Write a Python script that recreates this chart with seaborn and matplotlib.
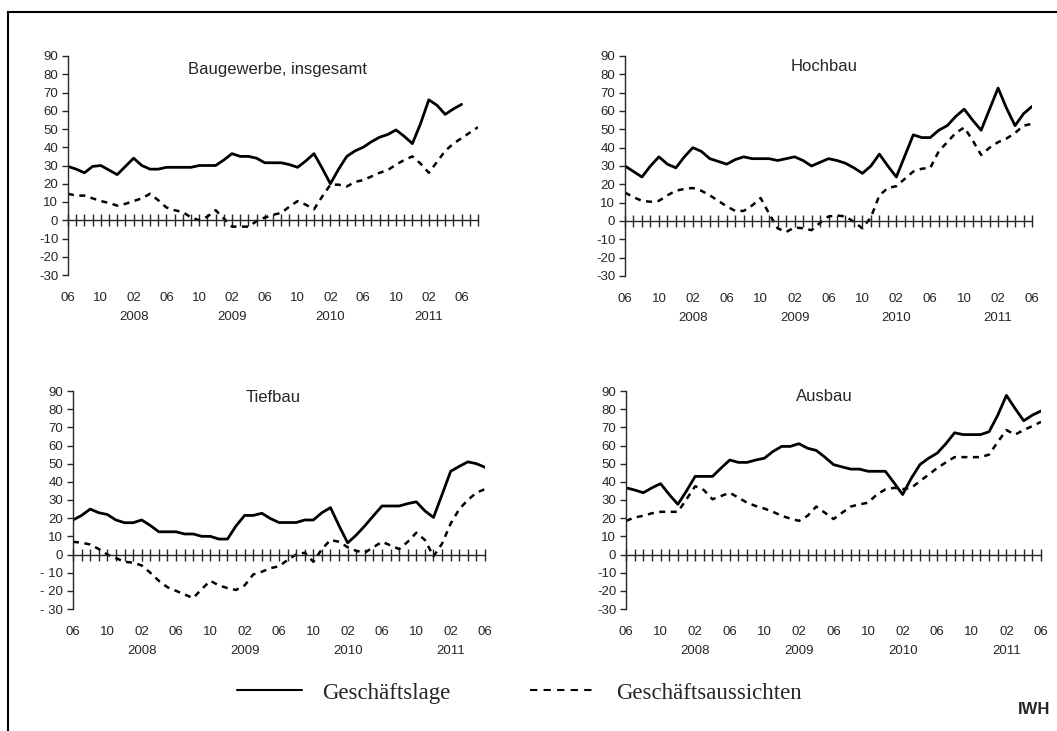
import matplotlib
matplotlib.use('Agg')
import matplotlib.pyplot as plt
from matplotlib.lines import Line2D
from matplotlib.patches import Rectangle
import seaborn as sns

# Salden, monthly values from 06/2007 to 06/2011 (Baugewerbe outlook runs to 08/2011)
baug_lage = [29.5, 28, 26, 29.5, 30, 27.5, 25, 29.5, 34, 30,
             28, 28, 29, 29, 29, 29, 30, 30, 30, 33,
             36.5, 35, 35, 34, 31.5, 31.5, 31.5, 30.5, 29, 32.5,
             36.5, 28.5, 20, 28, 35, 38, 40, 43, 45.5, 47,
             49.5, 46, 42, 53, 66, 63, 58, 61, 63.5]
baug_auss = [14.5, 13.5, 13.5, 12, 10.5, 9.5, 8, 9, 10.5, 12,
             14.5, 11, 7, 5.5, 4.5, 1.5, 0, 2, 5.5, 1,
             -3.5, -3.5, -3.5, -0.5, 1.5, 3, 4, 7.5, 10.5, 8.5,
             6, 13, 19.5, 19.5, 18.5, 21, 22, 24, 26, 27.5,
             30.5, 33, 35, 31, 26, 32, 38, 42, 45, 48, 51]

hoch_lage = [30, 27, 24, 30, 35, 31, 29, 35, 40, 38,
             34, 32.5, 31, 33.5, 35, 34, 34, 34, 33, 34,
             35, 33, 30, 32, 34, 33, 31.5, 29, 26, 30,
             36.5, 30, 24, 35.5, 47, 45.5, 45.5, 49.5, 52, 57,
             61, 55, 49.5, 61, 72.5, 61.5, 52, 58.5, 62.5]
hoch_auss = [15.5, 13, 11, 10.5, 11, 14, 16.5, 17.5, 18, 16.5,
             14, 11, 8, 5.5, 5.5, 8.5, 12.5, 4, -4, -6,
             -3.5, -4, -5, -1, 2.5, 3, 2.5, -0.5, -4, 2,
             14, 18, 19, 23, 27, 28.5, 29, 38, 43, 48,
             51, 44, 36, 40, 43, 45, 48, 52, 53]

tief_lage = [19, 21.5, 25, 23, 22, 19, 17.5, 17.5, 19, 16,
             12.5, 12.5, 12.5, 11.3, 11.3, 10, 10, 8.5, 8.5, 15.8,
             21.5, 21.5, 22.7, 19.8, 17.6, 17.6, 17.6, 19, 19, 23,
             25.8, 15.8, 6.4, 10.7, 15.8, 21.3, 26.7, 26.7, 26.7, 28,
             29, 24, 20.4, 33, 45.8, 48.5, 51, 50, 48]
tief_auss = [7, 6.5, 5.5, 3, 0, -2, -4, -4.5, -6, -10,
             -14.5, -18, -20, -22, -24, -19, -14.5, -17, -18.5, -19.5,
             -17, -11, -9.5, -7.5, -6.5, -3, 0, 1, -4, 3,
             8, 7, 4, 2, 1, 4, 7, 5, 3, 7,
             12, 8, -1, 6, 17, 25, 30, 34, 36]

ausb_lage = [36.7, 35.5, 34, 36.7, 39, 33, 27.6, 35, 43, 43,
             43, 47.6, 52, 50.7, 50.7, 52, 53, 56.7, 59.5, 59.5,
             61, 58.5, 57.3, 53.6, 49.5, 48.2, 47, 47, 45.8, 45.8,
             45.8, 39.5, 33, 42, 49.5, 53, 55.8, 61, 67, 66,
             66, 66, 67.6, 76.7, 87.6, 80.4, 73.6, 76.7, 79]
ausb_auss = [18.5, 20.4, 21.3, 22.7, 23.5, 23.5, 23.5, 30.4, 37.6, 35.5,
             30.4, 32.2, 34, 31.3, 28.5, 26.7, 25.3, 23.5, 21.3, 19.8,
             18.5, 21.3, 26.4, 23, 19.5, 23, 26.4, 27.6, 28.5, 33,
             35.8, 36.7, 36, 36.7, 40.4, 44, 47.6, 50.7, 53.6, 53.6,
             53.6, 53.6, 55, 62, 68.5, 66, 68.5, 70.7, 73]

titles = ['Baugewerbe, insgesamt', 'Hochbau', 'Tiefbau', 'Ausbau']
y_ticks = [90, 80, 70, 60, 50, 40, 30, 20, 10, 0, -10, -20, -30]
legend_labels = ['Geschäftslage', 'Geschäftsaussichten']

sns.set_style('white')
plt.rcParams['font.family'] = ['Liberation Sans', 'DejaVu Sans']
plt.rcParams['axes.unicode_minus'] = False

W, H = 1057, 731
fig = plt.figure(figsize=(W / 100, H / 100), dpi=100)


def rect(left, right, top, bottom):
    return [left / W, 1 - bottom / H, (right - left) / W, (bottom - top) / H]


panels = [
    (baug_lage, baug_auss, 50, rect(68, 478, 56, 275), (0.51, 0.94)),
    (hoch_lage, hoch_auss, 48, rect(625, 1032, 56, 276), (0.49, 0.95)),
    (tief_lage, tief_auss, 48, rect(73, 485, 391, 609), (0.485, 0.97)),
    (ausb_lage, ausb_auss, 48, rect(626, 1041, 391, 609), (0.477, 0.975)),
]

for k, (lage, auss, n_last, pos, tpos) in enumerate(panels):
    ax = fig.add_axes(pos)
    sns.lineplot(x=list(range(len(lage))), y=lage, ax=ax, color='black', lw=2.0)
    sns.lineplot(x=list(range(len(auss))), y=auss, ax=ax, color='black', lw=1.8,
                 linestyle=(0, (2.4, 2.2)))
    ax.set_xlim(0, n_last)
    ax.set_ylim(-30, 90)

    # y axis
    ax.set_yticks(y_ticks)
    if k == 2:
        ax.set_yticklabels([str(v).replace('-', '- ') for v in y_ticks])
    else:
        ax.set_yticklabels([str(v) for v in y_ticks])
    ax.tick_params(axis='y', direction='out', length=4, width=1, pad=3,
                   labelsize=9.5, left=True)

    # zero line with monthly ticks
    for s in ['top', 'right']:
        ax.spines[s].set_visible(False)
    ax.spines['left'].set_linewidth(1)
    ax.spines['bottom'].set_position(('data', 0))
    ax.spines['bottom'].set_linewidth(1)
    ax.set_xticks(range(n_last + 1))
    ax.tick_params(axis='x', direction='inout', length=8, width=1,
                   labelbottom=False, bottom=True)

    # month / year labels below
    idx = list(range(0, 49, 4))
    labels = []
    for i in idx:
        m = (6 + i - 1) % 12 + 1
        lab = f'{m:02d}'
        if m == 2:
            lab += '\n' + str(2007 + (6 + i - 1) // 12)
        labels.append(lab)
    sec = ax.secondary_xaxis('bottom')
    sec.set_xticks(idx, labels)
    sec.tick_params(length=0, pad=12.5, labelsize=9.5)
    for lbl in sec.get_xticklabels():
        lbl.set_linespacing(1.7)
    sec.spines['bottom'].set_visible(False)

    ax.set_xlabel('')
    ax.set_ylabel('')
    ax.text(tpos[0], tpos[1], titles[k], transform=ax.transAxes,
            ha='center', va='center', fontsize=12)

handles = [Line2D([], [], color='black', lw=1.5),
           Line2D([], [], color='black', lw=1.5, linestyle=(0, (3.5, 3)))]
fig.legend(handles, legend_labels, loc='center', bbox_to_anchor=(519 / W, 1 - 693 / H),
           ncol=2, frameon=False, prop={'family': 'Liberation Serif', 'size': 16.5},
           handlelength=2.85, handletextpad=0.87, columnspacing=3.5)

fig.text(1050 / W, 1 - 710 / H, 'IWH', ha='right', va='center',
         fontsize=12, fontweight='bold')

fig.patches.append(Rectangle((8 / W, -0.05), 1.1, (H - 12) / H + 0.05, fill=False,
                             lw=1.5, edgecolor='black', transform=fig.transFigure, figure=fig))

fig.savefig('out.png', dpi=100)
